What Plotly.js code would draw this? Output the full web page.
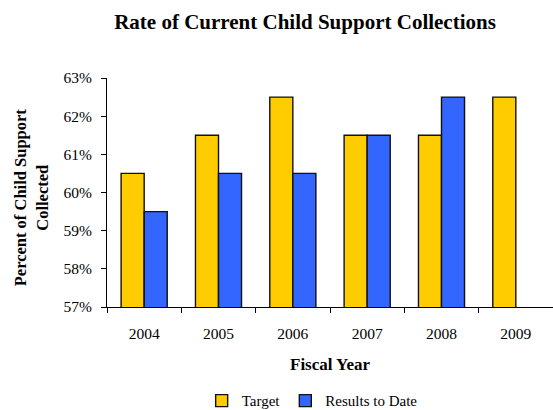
<!DOCTYPE html>
<html>
<head>
<meta charset="utf-8">
<script src="https://cdn.plot.ly/plotly-3.0.1.min.js"></script>
<style>
  html, body { margin: 0; padding: 0; background: #fff; }
  #chart { width: 553px; height: 410px; }
</style>
</head>
<body>
<div id="chart"></div>
<script>
// Fiscal years and collection rates (fractions)
const years = ['2004', '2005', '2006', '2007', '2008', '2009'];
const targetRates = [0.605, 0.615, 0.625, 0.615, 0.615, 0.625];
const resultRates = [0.595, 0.605, 0.605, 0.615, 0.625, null];

const serif = 'Liberation Serif, Times New Roman, serif';

const traces = [
  {
    type: 'bar', name: 'Target', x: years, y: targetRates,
    marker: { color: '#FFCC00', line: { color: '#111111', width: 1.4 } },
    hoverinfo: 'x+y'
  },
  {
    type: 'bar', name: 'Results to Date', x: years, y: resultRates,
    marker: { color: '#3366FF', line: { color: '#111111', width: 1.4 } },
    hoverinfo: 'x+y'
  }
];

const layout = {
  width: 553, height: 410,
  margin: { l: 107, r: 0, t: 78, b: 103, autoexpand: false },
  paper_bgcolor: '#ffffff', plot_bgcolor: '#ffffff',
  font: { family: serif, size: 15.5, color: '#000000' },
  barmode: 'group', bargap: 0.38, bargroupgap: 0,
  title: {
    text: '<b>Rate of Current Child Support Collections</b>',
    font: { family: serif, size: 21, color: '#000000' },
    x: 0.444, xanchor: 'center', xref: 'paper',
    y: 0.947, yanchor: 'middle'
  },
  xaxis: {
    type: 'category', range: [-0.5, 5.5],
    showline: true, linecolor: '#000000', linewidth: 1,
    ticks: 'outside', tickson: 'boundaries', ticklen: 5, tickcolor: '#000000',
    ticklabelstandoff: 12,
    showgrid: false, zeroline: false,
    tickfont: { family: serif, size: 15.5 }
  },
  yaxis: {
    range: [0.57, 0.63], dtick: 0.01, tick0: 0.57, tickformat: '.0%',
    showline: true, linecolor: '#000000', linewidth: 1,
    ticks: 'outside', ticklen: 5, tickcolor: '#000000',
    ticklabelstandoff: 6,
    showgrid: false, zeroline: false,
    tickfont: { family: serif, size: 15.5 }
  },
  showlegend: true,
  legend: {
    orientation: 'h', x: 0.46, xanchor: 'center', y: -0.41, yanchor: 'middle',
    font: { family: serif, size: 15 }, itemwidth: 30, traceorder: 'normal'
  },
  annotations: [
    {
      text: '<b>Percent of Child Support<br>Collected</b>',
      xref: 'paper', yref: 'paper', x: -0.17, y: 0.48,
      xanchor: 'center', yanchor: 'middle', textangle: -90, showarrow: false,
      font: { family: serif, size: 16.5 }
    },
    {
      text: '<b>Fiscal Year</b>',
      xref: 'paper', yref: 'paper', x: 0.5, y: -0.253,
      xanchor: 'center', yanchor: 'middle', showarrow: false,
      font: { family: serif, size: 17 }
    }
  ]
};

Plotly.newPlot('chart', traces, layout, { displayModeBar: false, staticPlot: true });
</script>
</body>
</html>
